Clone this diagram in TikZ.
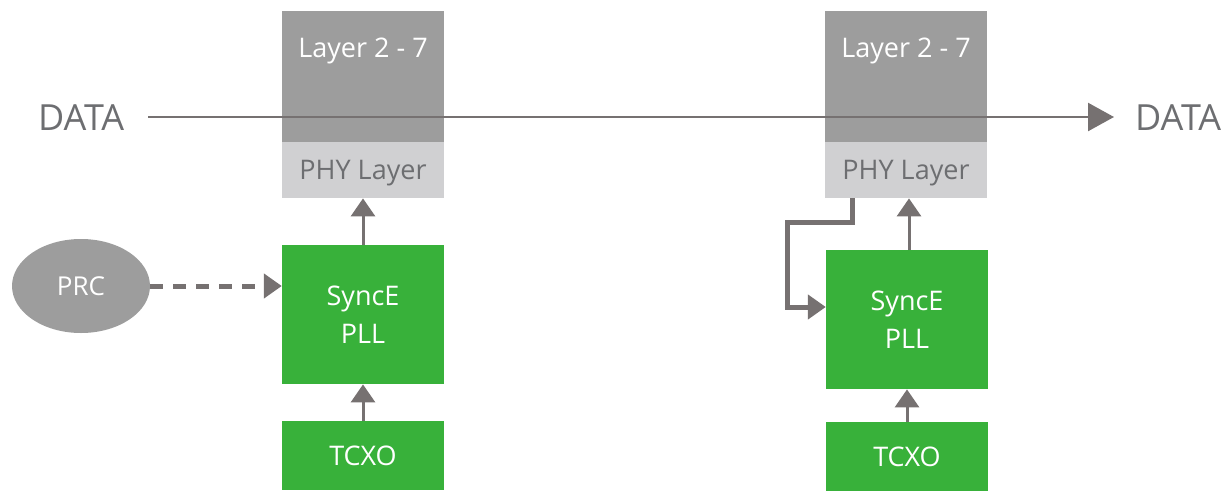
\documentclass[tikz,border=0pt]{standalone}
\usepackage{fontspec}
\setmainfont{Open Sans}
\usetikzlibrary{arrows.meta,shapes.geometric}
\definecolor{darkbox}{HTML}{9D9D9D}
\definecolor{lightbox}{HTML}{D0D0D2}
\definecolor{pllgreen}{HTML}{38B13A}
\definecolor{linegray}{HTML}{767171}
\definecolor{txtgray}{HTML}{6D6E71}
\begin{document}
\begin{tikzpicture}[x=1pt,y=-1pt,
  box/.style={draw=none,inner sep=0pt,minimum width=162pt},
  bf/.style={font=\fontsize{27}{38}\selectfont},
  upper/.style={box,fill=darkbox,minimum height=131pt,anchor=north},
  phy/.style={box,bf,fill=lightbox,minimum height=56pt,text=txtgray,anchor=north,text depth=0pt,text height=19pt},
  pll/.style={box,bf,fill=pllgreen,minimum height=139pt,text=white,align=center,anchor=north},
  tcxo/.style={box,bf,fill=pllgreen,minimum height=69pt,text=white,anchor=north,text depth=0pt,text height=19pt},
  conn/.style={draw=linegray,line width=3pt,-{Triangle[length=18pt,width=24pt]}},
  lbl/.style={text=txtgray,font=\fontsize{36}{40}\selectfont,inner sep=0pt}
]
\useasboundingbox (0,0) rectangle (1223,490);
% left stack
\node[upper] (L1) at (363,11) {};
\node[bf,text=white,inner sep=0pt] (L1t) at (363,51) {Layer 2 - 7};
\node[phy] (P1) at (363,142) {PHY Layer};
\node[pll] (S1) at (363,245) {SyncE\\PLL};
\node[tcxo] (T1) at (363,421) {TCXO};
% right stack
\node[upper] (L2) at (906,11) {};
\node[bf,text=white,inner sep=0pt] (L2t) at (906,51) {Layer 2 - 7};
\node[phy] (P2) at (906,142) {PHY Layer};
\node[pll] (S2) at (907,250) {SyncE\\PLL};
\node[tcxo] (T2) at (907,422) {TCXO};
% PRC
\node[ellipse,fill=darkbox,minimum width=138pt,minimum height=94pt,inner sep=0pt,text=white,font=\fontsize{26}{30}\selectfont] (PRC) at (81,286) {PRC};
% DATA
\node[lbl,anchor=west] (D1) at (38,118) {DATA};
\node[lbl,anchor=west] (D2) at (1135,118) {DATA};
\coordinate (dstart) at (148,117);
\coordinate (dend) at (1114,117);
\draw[draw=linegray,line width=2.5pt,-{Triangle[length=26pt,width=28pt]}] (dstart) -- (dend);
% arrows
\draw[conn] (T1.north) -- (S1.south);
\draw[conn] (S1.north) -- (P1.south);
\draw[conn] (T2.north) -- (S2.south);
\draw[conn] (S2.north -| 909,0) -- (P2.south -| 909,0);
\draw[conn,line width=5pt,dash pattern=on 13pt off 10pt] (PRC.east) -- (S1.west |- PRC.east);
\draw[draw=linegray,line width=5pt,-{Triangle[length=18pt,width=24pt]}] (P2.south -| 852,0) -- (852,222) -- (787,222) -- (787,307) -- (S2.west |- 0,307);
\end{tikzpicture}
\end{document}
